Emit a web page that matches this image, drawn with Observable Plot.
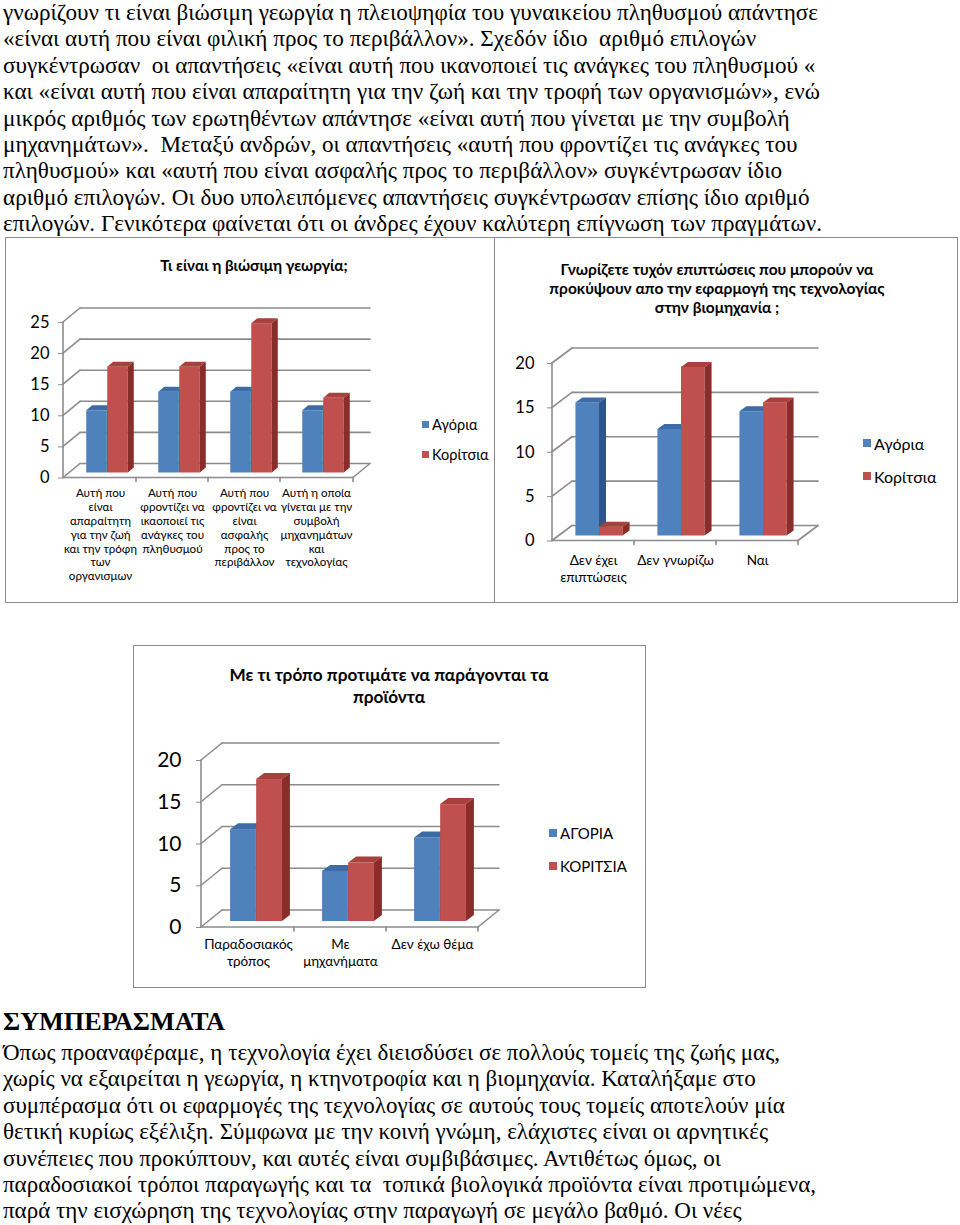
<!DOCTYPE html>
<html><head><meta charset="utf-8">
<script src="https://cdn.jsdelivr.net/npm/d3@7"></script>
<script src="https://cdn.jsdelivr.net/npm/@observablehq/plot@0.6.17"></script>
<style>
body{margin:0;background:#fff;}
#page{position:relative;width:960px;height:1225px;overflow:hidden;background:#fff;}
.para{position:absolute;left:3px;font-family:"Liberation Serif","Times New Roman",serif;font-size:23.5px;color:#000;white-space:pre;}
.line{display:block;height:26.4px;line-height:26.4px;}
.line span{display:inline-block;transform-origin:0 50%;}
.box{position:absolute;border:1.5px solid #8a8a8a;box-sizing:border-box;}
.ctitle{position:absolute;font-family:Lato,"Open Sans",sans-serif;font-weight:bold;text-align:center;color:#000;}
.leg{position:absolute;font-family:Lato,"Open Sans",sans-serif;color:#000;display:flex;align-items:center;white-space:nowrap;}
.sw{display:inline-block;margin-right:3px;}
.plot{position:absolute;}
</style></head>
<body><div id="page"></div>
<script>
// ---------- text ----------
const para1Lines = [
  "γνωρίζουν τι είναι βιώσιμη γεωργία η πλειοψηφία του γυναικείου πληθυσμού απάντησε",
  "«είναι αυτή που είναι φιλική προς το περιβάλλον». Σχεδόν ίδιο  αριθμό επιλογών",
  "συγκέντρωσαν  οι απαντήσεις «είναι αυτή που ικανοποιεί τις ανάγκες του πληθυσμού «",
  "και «είναι αυτή που είναι απαραίτητη για την ζωή και την τροφή των οργανισμών», ενώ",
  "μικρός αριθμός των ερωτηθέντων απάντησε «είναι αυτή που γίνεται με την συμβολή",
  "μηχανημάτων».  Μεταξύ ανδρών, οι απαντήσεις «αυτή που φροντίζει τις ανάγκες του",
  "πληθυσμού» και «αυτή που είναι ασφαλής προς το περιβάλλον» συγκέντρωσαν ίδιο",
  "αριθμό επιλογών. Οι δυο υπολειπόμενες απαντήσεις συγκέντρωσαν επίσης ίδιο αριθμό",
  "επιλογών. Γενικότερα φαίνεται ότι οι άνδρες έχουν καλύτερη επίγνωση των πραγμάτων."
];
const heading2 = "ΣΥΜΠΕΡΑΣΜΑΤΑ";
const para2Lines = [
  "Όπως προαναφέραμε, η τεχνολογία έχει διεισδύσει σε πολλούς τομείς της ζωής μας,",
  "χωρίς να εξαιρείται η γεωργία, η κτηνοτροφία και η βιομηχανία. Καταλήξαμε στο",
  "συμπέρασμα ότι οι εφαρμογές της τεχνολογίας σε αυτούς τους τομείς αποτελούν μία",
  "θετική κυρίως εξέλιξη. Σύμφωνα με την κοινή γνώμη, ελάχιστες είναι οι αρνητικές",
  "συνέπειες που προκύπτουν, και αυτές είναι συμβιβάσιμες. Αντιθέτως όμως, οι",
  "παραδοσιακοί τρόποι παραγωγής και τα  τοπικά βιολογικά προϊόντα είναι προτιμώμενα,",
  "παρά την εισχώρηση της τεχνολογίας στην παραγωγή σε μεγάλο βαθμό. Οι νέες"
];

// ---------- chart data ----------
const c1Title = "Τι είναι η βιώσιμη γεωργία;";
const c1Series = ["Αγόρια", "Κορίτσια"];
const c1Categories = [
  "Αυτή που\nείναι\nαπαραίτητη\nγια την ζωή\nκαι την τρόφη\nτων\nοργανισμων",
  "Αυτή που\nφροντίζει να\nικαοποιεί τις\nανάγκες του\nπληθυσμού",
  "Αυτή που\nφροντίζει να\nείναι\nασφαλής\nπρος το\nπεριβάλλον",
  "Αυτή η οποία\nγίνεται με την\nσυμβολή\nμηχανημάτων\nκαι\nτεχνολογίας"
];
const c1Boys = [10, 13, 13, 10];
const c1Girls = [17, 17, 24, 12];
const c1Ticks = [0, 5, 10, 15, 20, 25];

const c2Title = "Γνωρίζετε τυχόν επιπτώσεις που μπορούν να\nπροκύψουν απο την εφαρμογή της τεχνολογίας\nστην βιομηχανία ;";
const c2Series = ["Αγόρια", "Κορίτσια"];
const c2Categories = ["Δεν έχει\nεπιπτώσεις", "Δεν γνωρίζω", "Ναι"];
const c2Boys = [15, 12, 14];
const c2Girls = [1, 19, 15];
const c2Ticks = [0, 5, 10, 15, 20];

const c3Title = "Με τι τρόπο προτιμάτε να παράγονται τα\nπροϊόντα";
const c3Series = ["ΑΓΟΡΙΑ", "ΚΟΡΙΤΣΙΑ"];
const c3Categories = ["Παραδοσιακός\nτρόπος", "Με\nμηχανήματα", "Δεν έχω θέμα"];
const c3Boys = [11, 6, 10];
const c3Girls = [17, 7, 14];
const c3Ticks = [0, 5, 10, 15, 20];

// ---------- styles ----------
const BLUE = {front: "#4F81BD", top: "#3D6BA5", side: "#2E5789"};
const RED = {front: "#C0504D", top: "#A8403D", side: "#8A2D2A"};
const GRID = "#8c8c8c";
const FONT = "Lato, 'Open Sans', sans-serif";

const page = document.getElementById("page");

function addDiv(cls, css, html) {
  const d = document.createElement("div");
  d.className = cls;
  Object.assign(d.style, css);
  if (html != null) d.innerHTML = html;
  page.appendChild(d);
  return d;
}

// paragraphs
function addPara(lines, top) {
  const p = addDiv("para", {top: top + "px"});
  const spans = [];
  for (const l of lines) {
    const ld = document.createElement("div");
    ld.className = "line";
    const s = document.createElement("span");
    s.textContent = l;
    ld.appendChild(s);
    p.appendChild(ld);
    spans.push(s);
  }
  return spans;
}
const p1 = addPara(para1Lines, -1);
const head = addDiv("para", {top: "1007px", fontWeight: "bold", fontSize: "26px", lineHeight: "30px"});
const headSpan = document.createElement("span");
headSpan.style.display = "inline-block";
headSpan.style.transformOrigin = "0 50%";
headSpan.textContent = heading2;
head.appendChild(headSpan);
const p2 = addPara(para2Lines, 1039);

function fit(spans, refIdx, target) {
  const w = spans[refIdx].getBoundingClientRect().width;
  const k = target / w;
  for (const s of spans) s.style.transform = `scaleX(${k})`;
}
fit(p1, 0, 815);
fit(p2, 5, 813);
fit([headSpan], 0, 222);

// boxes
addDiv("box", {left: "5px", top: "237px", width: "490px", height: "366px"});
addDiv("box", {left: "494px", top: "237px", width: "464px", height: "366px"});
addDiv("box", {left: "133px", top: "645px", width: "513px", height: "343px"});

function title(text, css) {
  addDiv("ctitle", css, text.split("\n").map(t => `<div>${t}</div>`).join(""));
}
title(c1Title, {left: "104px", width: "300px", top: "255px", fontSize: "15.3px", lineHeight: "20px"});
title(c2Title, {left: "517px", width: "400px", top: "260px", fontSize: "15.5px", lineHeight: "19px"});
title(c3Title, {left: "139px", width: "500px", top: "664px", fontSize: "17.2px", lineHeight: "22px"});

function legend(series, x, ys, size, sw) {
  series.forEach((s, i) => {
    const c = i === 0 ? BLUE.front : RED.front;
    addDiv("leg", {left: x + "px", top: (ys[i] - 10) + "px", height: "20px", fontSize: size + "px"},
      `<span class="sw" style="width:${sw}px;height:${sw}px;background:${c}"></span><span>${s}</span>`);
  });
}
legend(c1Series, 422, [424, 454], 14.5, 7);
legend(c2Series, 863, [443, 476], 16, 8);
legend(c3Series, 549, [833, 866], 15, 8);

// ---------- 3D bar chart ----------
function chart3d(cfg) {
  const {cats, boys, girls, ticks, left, top, width, height, mL, mR, mT, mB,
    wall, shift, depth, barFrac, yFont, yPad, xFont, xPad, xLH} = cfg;
  const [wdx, wdy] = wall, [sdx, sdy] = shift, [ddx, ddy] = depth;
  const bw = (width - mL - mR) / cats.length;
  const barW = bw * barFrac / 2;
  const boysRows = cats.map((c, i) => ({cat: c, v: boys[i]}));
  const girlsRows = cats.map((c, i) => ({cat: c, v: girls[i]}));
  const yMax = d3.max(ticks);

  const walls = (index, scales, values, dims) => {
    const g = d3.create("svg:g").attr("stroke", GRID).attr("stroke-width", 1.6).attr("fill", "none").attr("stroke-linecap", "round");
    const y = scales.y, x = scales.x;
    const x0 = dims.marginLeft, x1 = dims.width - dims.marginRight;
    const line = (a, b, c, d) => g.append("line").attr("x1", a).attr("y1", b).attr("x2", c).attr("y2", d);
    for (const t of ticks) {
      const yy = y(t);
      line(x0, yy, x0 + wdx, yy - wdy);
      line(x0 + wdx, yy - wdy, x1 + wdx, yy - wdy);
    }
    const y0 = y(0);
    line(x0, y0, x1, y0);
    line(x1, y0, x1 + wdx, y0 - wdy);
    line(x0, y0, x0, y(yMax));
    for (const c of cats.slice(1)) line(x(c), y0, x(c), y0 + 4);
    line(x1, y0, x1, y0 + 4);
    return g.node();
  };

  const faces = (col) => (index, scales, values, dims, ctx, next) => {
    const g = next(index, scales, values, dims, ctx);
    const sel = d3.select(g);
    for (const r of sel.selectAll("rect").nodes()) {
      const x = +r.getAttribute("x"), y = +r.getAttribute("y");
      const w = +r.getAttribute("width"), h = +r.getAttribute("height");
      sel.append("polygon").attr("fill", col.top)
        .attr("points", `${x},${y} ${x + w},${y} ${x + w + ddx},${y - ddy} ${x + ddx},${y - ddy}`);
      sel.append("polygon").attr("fill", col.side)
        .attr("points", `${x + w},${y} ${x + w + ddx},${y - ddy} ${x + w + ddx},${y + h - ddy} ${x + w},${y + h}`);
    }
    return g;
  };

  const svg = Plot.plot({
    width, height, marginLeft: mL, marginRight: mR, marginTop: mT, marginBottom: mB,
    style: {fontFamily: FONT, color: "#000", background: "transparent", overflow: "visible"},
    x: {domain: cats, padding: 0, axis: null, label: null},
    y: {domain: [0, yMax], axis: null, label: null},
    marks: [
      walls,
      Plot.barY(boysRows, {x: "cat", y: "v", fill: BLUE.front, insetLeft: bw / 2 - barW, insetRight: bw / 2,
        dx: sdx, dy: -sdy, render: faces(BLUE)}),
      Plot.barY(girlsRows, {x: "cat", y: "v", fill: RED.front, insetLeft: bw / 2, insetRight: bw / 2 - barW,
        dx: sdx, dy: -sdy, render: faces(RED)}),
      Plot.axisY(ticks, {tickSize: 5, tickPadding: yPad, fontSize: yFont, stroke: GRID, label: null}),
      Plot.axisX({tickSize: 0, tickPadding: xPad, fontSize: xFont, lineHeight: xLH, label: null})
    ]
  });
  svg.classList.add("plot");
  svg.style.left = left + "px";
  svg.style.top = top + "px";
  page.appendChild(svg);
}

chart3d({cats: c1Categories, boys: c1Boys, girls: c1Girls, ticks: c1Ticks,
  left: 0, top: 280, width: 400, height: 320, mL: 63, mR: 47, mT: 42, mB: 122.5,
  wall: [17, 14], shift: [7, 5], depth: [6, 5], barFrac: 0.58,
  yFont: 16.5, yPad: 9, xFont: 11.6, xPad: 9, xLH: 1.2});
chart3d({cats: c2Categories, boys: c2Boys, girls: c2Girls, ticks: c2Ticks,
  left: 490, top: 320, width: 360, height: 280, mL: 62, mR: 52, mT: 43, mB: 59.5,
  wall: [20, 15], shift: [6, 5], depth: [7, 5], barFrac: 0.575,
  yFont: 16.5, yPad: 13, xFont: 13.5, xPad: 12, xLH: 1.25});
chart3d({cats: c3Categories, boys: c3Boys, girls: c3Girls, ticks: c3Ticks,
  left: 130, top: 720, width: 420, height: 265, mL: 71, mR: 72, mT: 40, mB: 58,
  wall: [21, 17], shift: [8, 6], depth: [8, 6], barFrac: 0.565,
  yFont: 21, yPad: 15, xFont: 13.5, xPad: 10, xLH: 1.25});
</script>
</body></html>
